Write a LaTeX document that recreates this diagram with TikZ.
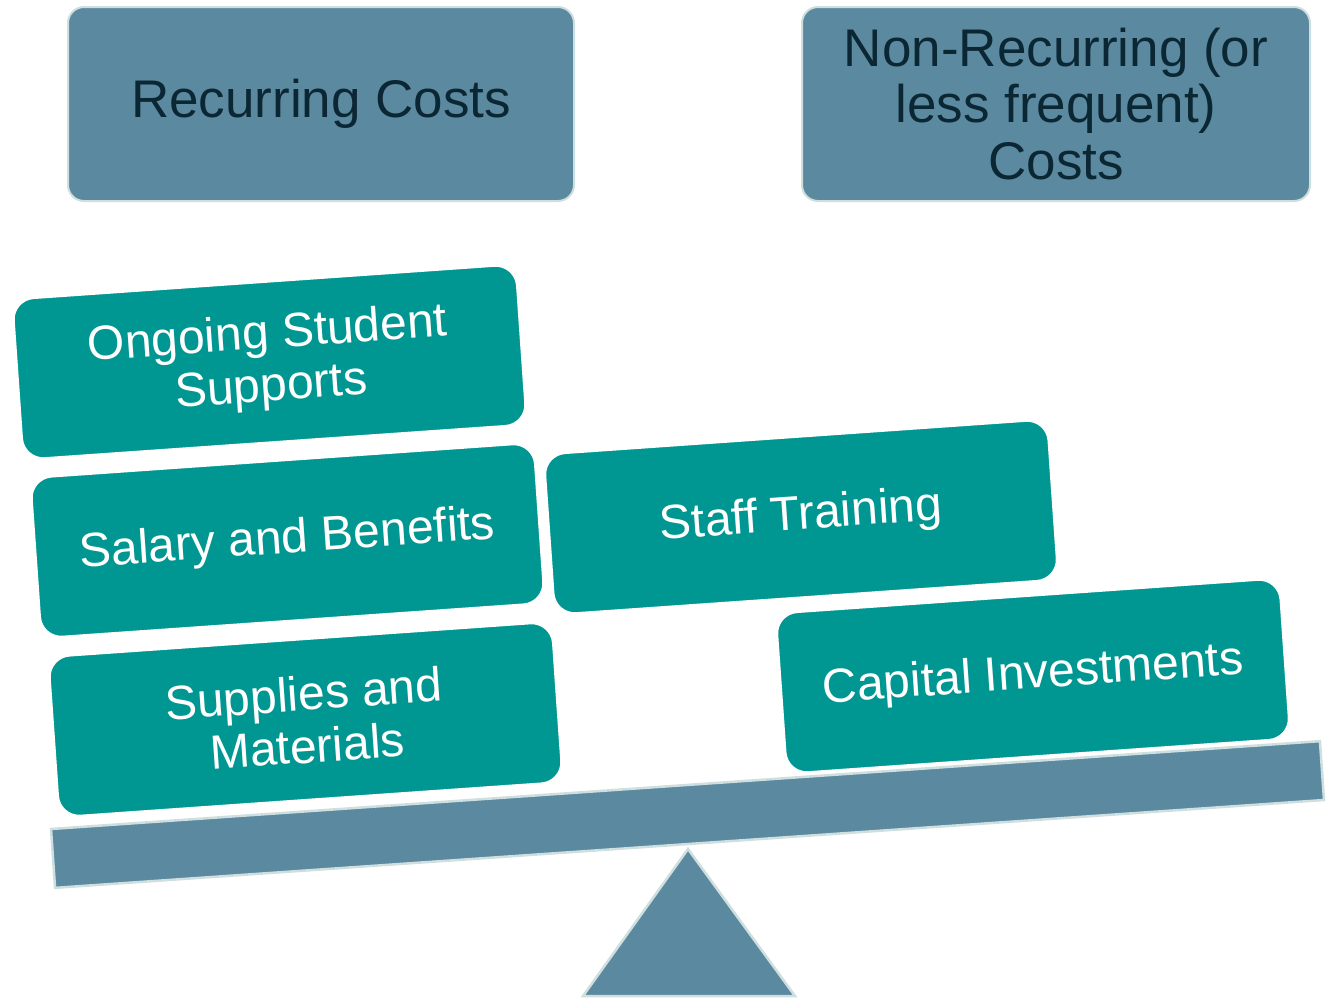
\documentclass[tikz,border=0pt]{standalone}
\usepackage{fontspec}
\setmainfont{Liberation Sans}
\definecolor{steelc}{HTML}{5B8AA0}
\definecolor{tealc}{HTML}{009692}
\definecolor{rimc}{HTML}{CFDFDF}
\definecolor{navyc}{HTML}{0C2734}
\tikzset{
  hdrbox/.style={rectangle, rounded corners=16pt, fill=steelc, draw=rimc, line width=2pt,
    inner sep=0pt, outer sep=0pt, minimum height=194pt, text=navyc,
    font=\fontsize{53}{56.5}\selectfont, align=center},
  tealbox/.style={rectangle, rounded corners=21pt, fill=tealc, draw=white, line width=1.5pt,
    inner sep=0pt, outer sep=0pt, minimum width=504pt, minimum height=160pt, text=white,
    font=\fontsize{48}{52.5}\selectfont, align=center, rotate=4},
  beambox/.style={rectangle, fill=steelc, draw=rimc, line width=2.5pt, inner sep=0pt,
    minimum width=1272pt, minimum height=59pt, rotate=3.96},
  fulcrum/.style={fill=steelc, draw=rimc, line width=2.5pt, line join=miter}
}
\begin{document}
\begin{tikzpicture}[x=1pt,y=-1pt]
\useasboundingbox (0,0) rectangle (1326,999);
% header boxes
\node[hdrbox, minimum width=506pt] (rec) at (321,104) {Recurring Costs};
\node[hdrbox, minimum width=508pt] (nonrec) at (1056,104) {Non-Recurring (or\\less frequent)\\Costs};
% beam and fulcrum
\node[beambox] (beam) at (687.5,814.5) {};
\coordinate (apex) at (688,849);
\coordinate (bl) at (583,996);
\coordinate (br) at (795,996);
\draw[fulcrum] (apex) -- (bl) -- (br) -- cycle;
% cost boxes
\node[tealbox] (ongoing) at (269.5,362) {Ongoing Student\\Supports};
\node[tealbox] (salary) at (287.5,540.5) {Salary and Benefits};
\node[tealbox] (supplies) at (305.5,719.5) {Supplies and\\Materials};
\node[tealbox] (staff) at (801,517) {Staff Training};
\node[tealbox] (capital) at (1033,676) {Capital Investments};
\end{tikzpicture}
\end{document}
